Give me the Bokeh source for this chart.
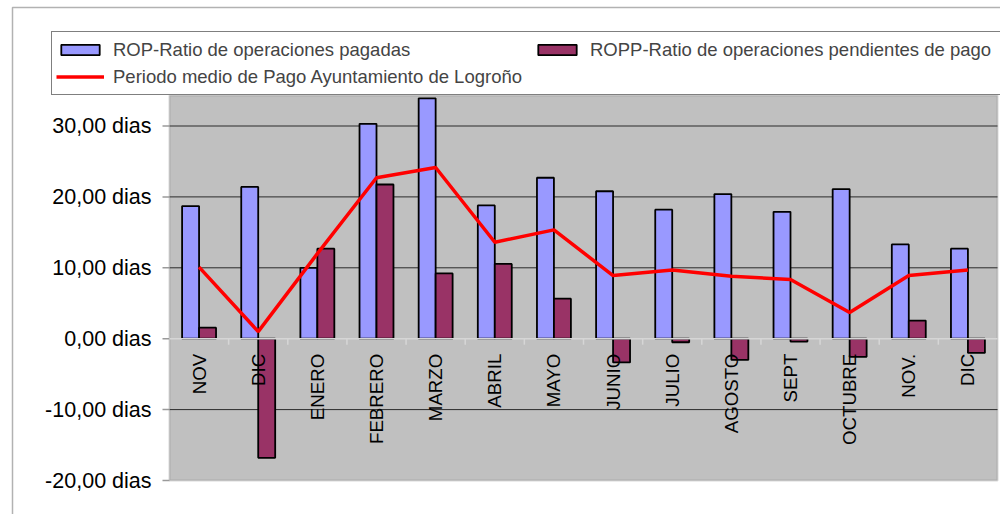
import math
from bokeh.plotting import figure
from bokeh.models import Range1d, Legend, LegendItem, BoxAnnotation, ColumnDataSource
from bokeh.core.properties import value
from bokeh.embed import file_html
from bokeh.resources import INLINE

# ---- data ----
months = ["NOV", "DIC", "ENERO", "FEBRERO", "MARZO", "ABRIL", "MAYO",
          "JUNIO", "JULIO", "AGOSTO", "SEPT", "OCTUBRE", "NOV.", "DIC"]
rop = [18.7, 21.4, 10.0, 30.3, 33.9, 18.8, 22.7, 20.8, 18.2, 20.4, 17.9, 21.1, 13.3, 12.7]
ropp = [1.55, -16.8, 12.7, 21.75, 9.2, 10.55, 5.65, -3.35, -0.5, -3.0, -0.4, -2.55, 2.55, -2.0]
pmp = [10.1, 1.0, 12.0, 22.7, 24.15, 13.6, 15.35, 8.9, 9.7, 8.8, 8.35, 3.7, 8.9, 9.7]
y_ticks = [-20, -10, 0, 10, 20, 30]
y_tick_labels = [f"{t:.2f}".replace(".", ",") + " dias" for t in y_ticks]
series_names = ["ROP-Ratio de operaciones pagadas",
                "ROPP-Ratio de operaciones pendientes de pago",
                "Periodo medio de Pago Ayuntamiento de Logroño"]

# ---- layout (pixels) ----
W, H = 1000, 514
PLOT_L, PLOT_R = 169, 997       # plot-area left / right edge
PLOT_T, PLOT_B = 95, 480        # plot-area top / pixel of the lowest tick
PX_PER_Y = 7.09
FONT = "Liberation Sans"

n = len(months)
ux = (PLOT_R - PLOT_L) / n
x_range = Range1d(-PLOT_L / ux, (W - PLOT_L) / ux)
y_range = Range1d(y_ticks[0] - (H - PLOT_B) / PX_PER_Y, y_ticks[0] + PLOT_B / PX_PER_Y)
plot_top_value = y_ticks[0] + (PLOT_B - PLOT_T) / PX_PER_Y

centers = [i + 0.5 for i in range(n)]
bw = 0.287

src = ColumnDataSource(dict(
    x_rop=[c - bw / 2 for c in centers],
    x_ropp=[c + bw / 2 for c in centers],
    xc=centers, rop=rop, ropp=ropp, pmp=pmp, label=months,
    zero=[0] * n,
))

p = figure(width=W, height=H, output_backend="svg", toolbar_location=None,
           x_range=x_range, y_range=y_range,
           x_axis_location=None, y_axis_location=None,
           min_border=0, border_fill_color="white", background_fill_color="white",
           outline_line_color=None)
p.grid.visible = False

# plot area
p.add_layout(BoxAnnotation(left=0, right=n, bottom=y_ticks[0], top=plot_top_value,
                           fill_color="#C0C0C0", fill_alpha=1,
                           line_color="#808080", line_width=2, level="underlay"))

# gridlines
grid_ticks = [t for t in y_ticks if t not in (0, y_ticks[0])]
p.segment(x0=[0] * len(grid_ticks), x1=[n] * len(grid_ticks), y0=grid_ticks, y1=grid_ticks,
          line_color="#2a2a2a", line_width=1)

# y axis ticks and labels
p.ray(x=[0] * len(y_ticks), y=y_ticks, length=7, length_units="screen", angle=math.pi,
      line_color="#9a9a9a", line_width=1.5)
p.text(x=[0] * len(y_ticks), y=y_ticks, text=y_tick_labels, x_offset=-18,
       text_align="right", text_baseline="middle",
       text_font=value(FONT), text_font_size="21.5px", text_color="black")

# bars
r_rop = p.vbar(x="x_rop", top="rop", bottom=0, width=bw, source=src,
               fill_color="#9999FF", line_color="black", line_width=1.8)
r_ropp = p.vbar(x="x_ropp", top="ropp", bottom=0, width=bw, source=src,
                fill_color="#993366", line_color="black", line_width=1.8)

# category axis line at zero and tick marks between categories
p.segment(x0=[0], x1=[n], y0=[0], y1=[0], line_color="#d6d6d6", line_width=1.5)
p.ray(x=list(range(1, n)), y=[0] * (n - 1), length=6, length_units="screen",
      angle=-math.pi / 2, line_color="#d6d6d6", line_width=1.5)

# line
r_line = p.line(x="xc", y="pmp", source=src, line_color="#FF0000", line_width=3.5)

# category labels
p.text(x="xc", y="zero", text="label", source=src, angle=math.pi / 2,
       text_align="right", text_baseline="middle", y_offset=15,
       text_font=value(FONT), text_font_size="18.7px", text_color="black")

legend = Legend(items=[LegendItem(label=series_names[0], renderers=[r_rop]),
                       LegendItem(label=series_names[1], renderers=[r_ropp]),
                       LegendItem(label=series_names[2], renderers=[r_line])],
                location=(51, H - PLOT_T), orientation="horizontal", ncols=2,
                label_text_font=FONT, label_text_font_size="18.5px",
                glyph_width=48, glyph_height=13, label_standoff=9,
                spacing=0, padding=4, label_height=27, label_width=420,
                border_line_color="black", border_line_width=1,
                background_fill_color="white", background_fill_alpha=1, margin=0)
p.add_layout(legend)

# outer chart border
p.add_layout(BoxAnnotation(left=12, right=W + 100, top=H - 7, bottom=-100,
                           left_units="screen", right_units="screen",
                           top_units="screen", bottom_units="screen",
                           fill_alpha=0, line_color="black", line_width=1.5))

open("out.html", "w").write(file_html(p, INLINE))
